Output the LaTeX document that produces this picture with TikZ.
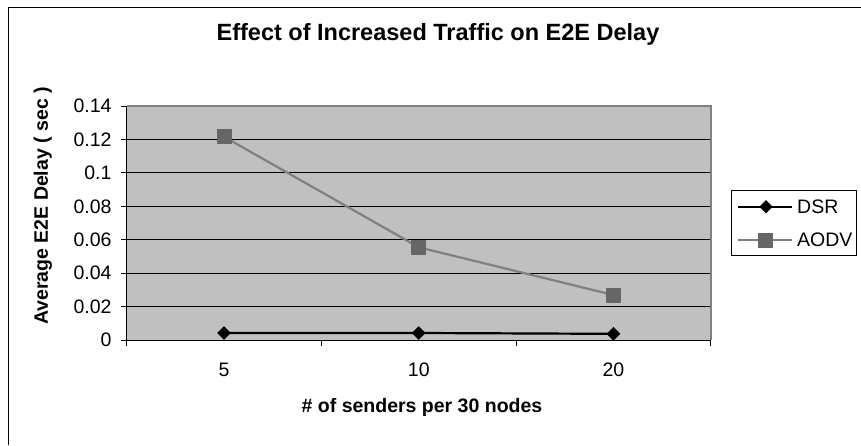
\documentclass[tikz,border=0pt]{standalone}
\usepackage{fontspec}
\setmainfont{Liberation Sans}
\usepackage{tikz}
\usetikzlibrary{shapes.geometric}
\definecolor{Ink}{HTML}{000000}
\definecolor{PlotFill}{HTML}{C0C0C0}
\definecolor{PlotEdge}{HTML}{808080}
\definecolor{AodvLine}{HTML}{808080}
\definecolor{AodvMark}{HTML}{666666}

\begin{document}
\begin{tikzpicture}[
    x=1pt,
    y=-1pt,
    every node/.style={inner sep=0pt, text=Ink, font=\fontsize{19.5}{22}\selectfont},
    ticklab/.style={anchor=east},
    catlab/.style={anchor=center},
    dsrmark/.style={diamond, fill=Ink, minimum size=13.5pt},
    aodvmark/.style={rectangle, fill=AodvMark, minimum size=15pt},
    dsrline/.style={Ink, line width=2.2pt},
    aodvline/.style={AodvLine, line width=2.2pt}
]
\useasboundingbox (0,0) rectangle (861,445);

% Outer frame
\draw[Ink, line width=1.5pt] (8.3,445) -- (8.3,7.5) -- (861,7.5);

% Title
\node[font=\fontsize{23.5}{26}\selectfont\bfseries] (title) at (438,34) {Effect of Increased Traffic on E2E Delay};

% Plot area
\begin{scope}[shift={(126.7pt,-340pt)}, x=194.7pt, y=1671.4pt]
  \fill[PlotFill] (0,0) rectangle (3,0.14);
  \foreach \v in {0.02,0.04,0.06,0.08,0.10,0.12} {
    \draw[Ink, line width=0.9pt] (0,\v) -- (3,\v);
  }
  \draw[PlotEdge, line width=2pt] (0,0.14) -- (3,0.14) -- (3,0);
  \draw[Ink, line width=1pt] (0,0.14) -- (0,0) -- (3,0);

  % y ticks and labels
  \foreach \v/\lab in {0/0, 0.02/0.02, 0.04/0.04, 0.06/0.06, 0.08/0.08, 0.10/0.1, 0.12/0.12, 0.14/0.14} {
    \draw[Ink, line width=1pt] (0,\v) -- ++(-6pt,0);
    \node[ticklab] (yl\lab) at ([xshift=-15pt]0,\v) {\lab};
  }

  % x ticks and labels
  \foreach \c in {0,1,2,3} {
    \draw[Ink, line width=1pt] (\c,0) -- ++(0,-6pt);
  }
  \foreach \c/\lab in {0.5/5, 1.5/10, 2.5/20} {
    \node[catlab] (xl\lab) at ([yshift=-30pt]\c,0) {\lab};
  }

  % AODV
  \node[aodvmark] (a1) at (0.5,0.1216) {};
  \node[aodvmark] (a2) at (1.5,0.0555) {};
  \node[aodvmark] (a3) at (2.5,0.0269) {};
  \draw[aodvline] (a1.center) -- (a2.center) -- (a3.center);
  \foreach \p in {a1,a2,a3} {
    \fill[AodvMark] ([shift={(-7.5pt,-7.5pt)}]\p.center) rectangle ([shift={(7.5pt,7.5pt)}]\p.center);
  }

  % DSR
  \node[dsrmark] (d1) at (0.5,0.0042) {};
  \node[dsrmark] (d2) at (1.5,0.0042) {};
  \node[dsrmark] (d3) at (2.5,0.0037) {};
  \draw[dsrline] (d1.center) -- (d2.center) -- (d3.center);
  \foreach \p in {d1,d2,d3} {
    \node[dsrmark] at (\p.center) {};
  }
\end{scope}

% Axis titles
\node[font=\fontsize{19.5}{22}\selectfont\bfseries, rotate=90] (ytitle) at (43,206) {Average E2E Delay ( sec )};
\node[font=\fontsize{19.5}{22}\selectfont\bfseries] (xtitle) at (422,407) {\# of senders per 30 nodes};

% Legend
\node[draw=Ink, line width=1pt, minimum width=125pt, minimum height=65.3pt] (legbox) at (794.2,223.3) {};
\coordinate (ls1) at (738,206.7);
\coordinate (le1) at (792,206.7);
\coordinate (ls2) at (738,240);
\coordinate (le2) at (792,240);
\draw[dsrline] (ls1) -- (le1);
\node[dsrmark] (ldsr) at (766,206.7) {};
\draw[aodvline] (ls2) -- (le2);
\node[aodvmark] (laodv) at (765,240) {};
\node[anchor=west] (tdsr) at (797,206.7) {DSR};
\node[anchor=west] (taodv) at (797,240) {AODV};

\end{tikzpicture}
\end{document}
